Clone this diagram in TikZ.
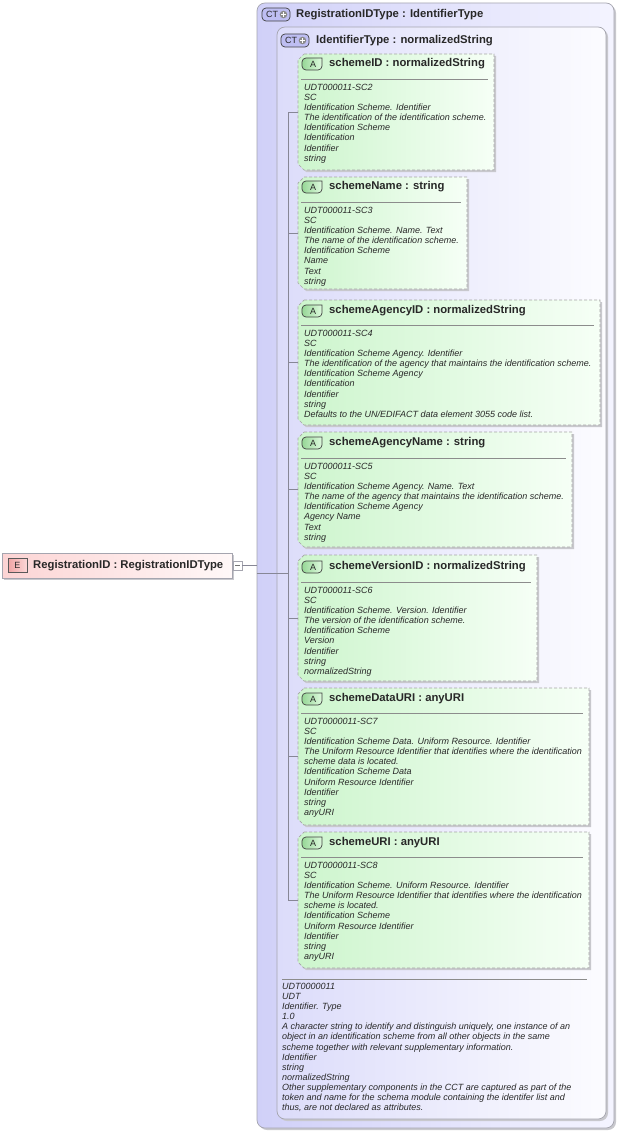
\documentclass[tikz,border=0pt]{standalone}
\usepackage{fontspec}
\setmainfont{Liberation Sans}
\usetikzlibrary{fit}
\definecolor{outerL}{RGB}{208,208,248}
\definecolor{outerR}{RGB}{244,244,255}
\definecolor{innerL}{RGB}{220,220,250}
\definecolor{innerR}{RGB}{252,252,255}
\definecolor{attrL}{RGB}{205,245,205}
\definecolor{attrR}{RGB}{246,255,246}
\definecolor{boxborder}{RGB}{165,165,175}
\definecolor{elemL}{RGB}{252,212,212}
\definecolor{elemR}{RGB}{255,248,248}
\definecolor{iconEL}{RGB}{240,165,165}
\definecolor{iconER}{RGB}{252,215,215}
\definecolor{iconAL}{RGB}{150,215,150}
\definecolor{iconAR}{RGB}{222,250,222}
\definecolor{iconCT}{RGB}{190,190,242}
\definecolor{txt}{RGB}{40,40,40}
\definecolor{treec}{RGB}{135,135,150}
\definecolor{shadowc}{RGB}{200,200,205}
\newcommand{\cticon}[3]{%
  \draw[draw=black!75, fill=iconCT, rounded corners=4, line width=0.7pt] (#2,#3-6.5) rectangle (#2+28,#3+6.5);
  \node[icontext] (#1) at (#2+10,#3) {CT};
  \fill[black!45] (#2+21.5,#3) circle (3.8);
  \draw[white, line width=1.2pt] (#2+19.1,#3) -- (#2+23.9,#3) (#2+21.5,#3-2.4) -- (#2+21.5,#3+2.4);
}
\newcommand{\aicon}[3]{%
  \draw[draw=black!75, left color=iconAL, right color=iconAR, line width=0.7pt, rounded corners=4] (#2+20,#3-6) -- (#2,#3-6) -- (#2,#3+6) -- (#2+20,#3+6) [sharp corners] -- cycle;
  \node[icontext] (#1) at (#2+11,#3) {A};
}
\newcommand{\attrbox}[9]{%
  \fill[shadowc] (#2+8,#3+2) -- (#4+2,#3+2) -- (#4+2,#5+2) -- (#2+8,#5+2) -- (#2+2,#5-4) -- (#2+2,#3+8) -- cycle;
  \shade[left color=attrL, right color=attrR] (#2+6,#3) -- (#4,#3) -- (#4,#5) -- (#2+6,#5) -- (#2,#5-6) -- (#2,#3+6) -- cycle;
  \draw[attrborder] (#2+6,#3) -- (#4,#3) -- (#4,#5) -- (#2+6,#5) -- (#2,#5-6) -- (#2,#3+6) -- cycle;
  \node[fit={(#2,#3) (#4,#5)}, inner sep=0] (#1) {};
  \draw[sepline] (#2+3,#7) -- (#4-6,#7);
  \aicon{#1i}{#2+4}{#6}
  \node[titlef] (#1t) at (#2+31,#6) {#8};
  \node[bodyf] (#1b) at (#2+6,#7+4.7) {#9};
}
\begin{document}
\begin{tikzpicture}[x=1pt,y=-1pt,
  titlef/.style={font=\fontsize{11.3}{13}\selectfont\bfseries, text=txt, inner sep=0, anchor=west},
  bodyf/.style={font=\fontsize{9}{10.15}\selectfont\itshape, align=left, inner sep=0, anchor=north west, text=txt},
  icontext/.style={font=\fontsize{9}{10}\selectfont, text=black!85, inner sep=0},
  tree/.style={draw=treec, line width=0.6pt},
  sepline/.style={draw=black!45, line width=0.6pt},
  attrborder/.style={draw=black!35, line width=0.7pt, dash pattern=on 3pt off 2pt},
  bigbox/.style={inner sep=0, rounded corners=8, draw=boxborder, line width=0.7pt}]
\useasboundingbox (0,0) rectangle (618,1132);
\fill[white] (0,0) rectangle (618,1132);

% outer complex type
\fill[shadowc, rounded corners=8] (259,5) rectangle (616,1130);
\node[bigbox, fit={(257,3) (614,1128)}, left color=outerL, right color=outerR] (outer) {};
\cticon{ct1}{262}{14.5}
\node[titlef] (outerT) at (296,14.5) {RegistrationIDType : IdentifierType};

% inner complex type
\fill[shadowc, rounded corners=8] (279,29) rectangle (608,1121);
\node[bigbox, fit={(277,27) (606,1119)}, left color=innerL, right color=innerR] (inner) {};
\cticon{ct2}{281}{40.5}
\node[titlef] (innerT) at (316,40.5) {IdentifierType : normalizedString};

% attributes
\attrbox{a1}{298}{54}{494}{170}{64}{79}{schemeID : normalizedString}{UDT000011-SC2\\SC\\Identification Scheme. Identifier\\The identification of the identification scheme.\\Identification Scheme\\Identification\\Identifier\\string}
\attrbox{a2}{298}{177}{467}{289}{187}{202}{schemeName : string}{UDT000011-SC3\\SC\\Identification Scheme. Name. Text\\The name of the identification scheme.\\Identification Scheme\\Name\\Text\\string}
\attrbox{a3}{298}{300}{600}{425}{311}{325}{schemeAgencyID : normalizedString}{UDT000011-SC4\\SC\\Identification Scheme Agency. Identifier\\The identification of the agency that maintains the identification scheme.\\Identification Scheme Agency\\Identification\\Identifier\\string\\Defaults to the UN/EDIFACT data element 3055 code list.}
\attrbox{a4}{298}{432}{572}{547}{443}{458}{schemeAgencyName : string}{UDT000011-SC5\\SC\\Identification Scheme Agency. Name. Text\\The name of the agency that maintains the identification scheme.\\Identification Scheme Agency\\Agency Name\\Text\\string}
\attrbox{a5}{298}{555}{537}{681}{567}{582}{schemeVersionID : normalizedString}{UDT000011-SC6\\SC\\Identification Scheme. Version. Identifier\\The version of the identification scheme.\\Identification Scheme\\Version\\Identifier\\string\\normalizedString}
\attrbox{a6}{298}{688}{589}{825}{699}{713}{schemeDataURI : anyURI}{UDT0000011-SC7\\SC\\Identification Scheme Data. Uniform Resource. Identifier\\The Uniform Resource Identifier that identifies where the identification\\scheme data is located.\\Identification Scheme Data\\Uniform Resource Identifier\\Identifier\\string\\anyURI}
\attrbox{a7}{298}{832}{589}{968}{843}{857}{schemeURI : anyURI}{UDT0000011-SC8\\SC\\Identification Scheme. Uniform Resource. Identifier\\The Uniform Resource Identifier that identifies where the identification\\scheme is located.\\Identification Scheme\\Uniform Resource Identifier\\Identifier\\string\\anyURI}

% documentation of the type
\draw[sepline] (282,979) -- (587,979);
\node[bodyf] (doc) at (282,982.7) {UDT0000011\\UDT\\Identifier. Type\\1.0\\A character string to identify and distinguish uniquely, one instance of an\\object in an identification scheme from all other objects in the same\\scheme together with relevant supplementary information.\\Identifier\\string\\normalizedString\\Other supplementary components in the CCT are captured as part of the\\token and name for the schema module containing the identifer list and\\thus, are not declared as attributes.};

% tree lines
\coordinate (j) at (288,573);
\draw[tree] (j |- a1.west) -- (j |- a7.west);
\foreach \a in {a1,a2,a3,a4,a5,a6,a7} \draw[tree] (j |- \a.west) -- (\a.west);
\draw[tree] (outer.west |- j) -- (j);

% element
\fill[shadowc] (4,555) rectangle (234,580);
\node[inner sep=0, fit={(2,553) (232,578)}, draw=boxborder, line width=0.7pt, left color=elemL, right color=elemR] (E) {};
\draw[draw=black!65, left color=iconEL, right color=iconER, line width=0.7pt] (8,558) rectangle (27,572);
\node[icontext] (Ei) at (17.5,565.3) {E};
\node[titlef] (Et) at (33,565.5) {RegistrationID : RegistrationIDType};
\node[draw=boxborder, fill=white, minimum size=9pt, inner sep=0, line width=0.6pt] (minus) at (237.5,565.5) {};
\draw[black!55, line width=0.6pt] (235,565.5) -- (240,565.5);
\draw[tree] (minus.east) -- (outer.west |- minus.east);
\end{tikzpicture}
\end{document}
